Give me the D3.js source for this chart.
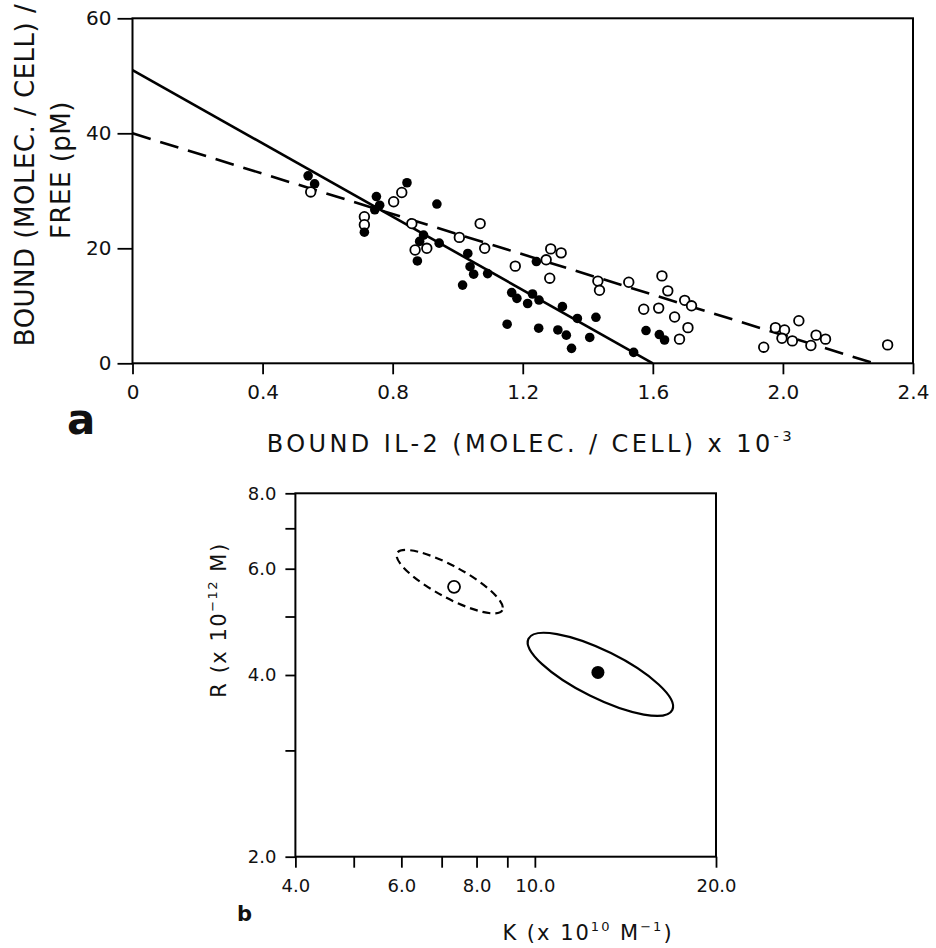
<!DOCTYPE html>
<html>
<head>
<meta charset="utf-8">
<script src="https://cdn.jsdelivr.net/npm/d3@7"></script>
<style>
  body { margin: 0; background: #fff; }
  svg { display: block; background: #fff; }
  text { fill: #111; font-family: 'DejaVu Sans', sans-serif; }
</style>
</head>
<body>
<svg id="chart" width="936" height="948"></svg>
<script>
// ---------- panel a : bound IL-2 (x10^-3) vs bound/free ----------
var filledPts = [
  [0.54, 32.6], [0.56, 31.2], [0.75, 29.0], [0.76, 27.5], [0.745, 26.7], [0.713, 22.8],
  [0.844, 31.4], [0.936, 27.7], [0.895, 22.3], [0.883, 21.2], [0.876, 17.8], [0.943, 20.9],
  [1.031, 19.1], [1.038, 16.8], [1.049, 15.5], [1.092, 15.6], [1.015, 13.6], [1.242, 17.7],
  [1.166, 12.3], [1.182, 11.3], [1.215, 10.4], [1.230, 12.05], [1.250, 11.0], [1.152, 6.8],
  [1.249, 6.1], [1.308, 5.8], [1.334, 4.9], [1.350, 2.6], [1.322, 9.85], [1.368, 7.8],
  [1.406, 4.5], [1.425, 8.0], [1.579, 5.7], [1.541, 1.9], [1.620, 5.0], [1.636, 4.05]
];
var openPts = [
  [0.548, 29.8], [0.713, 25.5], [0.713, 24.1], [0.803, 28.1], [0.828, 29.7], [0.859, 24.3],
  [1.069, 24.3], [0.869, 19.7], [0.905, 20.0], [1.005, 21.9], [1.083, 20.0], [1.177, 16.9],
  [1.272, 18.0], [1.286, 19.9], [1.318, 19.2], [1.283, 14.8], [1.431, 14.3], [1.436, 12.7],
  [1.526, 14.1], [1.572, 9.4], [1.628, 15.2], [1.646, 12.6], [1.618, 9.6], [1.698, 10.95],
  [1.719, 10.0], [1.667, 8.05], [1.708, 6.2], [1.682, 4.2], [1.941, 2.8], [1.977, 6.2],
  [2.005, 5.8], [2.049, 7.4], [1.997, 4.35], [2.029, 3.9], [2.102, 4.9], [2.131, 4.2],
  [2.086, 3.1], [2.322, 3.2]
];
var solidFit = [[0, 51], [1.6, 0]];
var dashedFit = [[0, 40], [2.28, 0]];
var aXTicks = [0, 0.4, 0.8, 1.2, 1.6, 2.0, 2.4];
var aYTicks = [0, 20, 40, 60];

// ---------- panel b : K vs R (log-log) ----------
var bXTicks = [4, 5, 6, 7, 8, 9, 10, 20];
var bXLabels = [4, 6, 8, 10, 20];
var bYTicks = [2, 3, 4, 5, 6, 7, 8];
var bYLabels = [2, 4, 6, 8];
var openEst = [7.34, 5.60];
var filledEst = [12.73, 4.04];
// confidence regions: centre, end of major axis, end of minor axis  [K, R]
var dashedRegion = [[7.22, 5.71], [8.83, 5.12], [7.43, 6.02]];
var solidRegion = [[12.85, 4.01], [16.92, 3.50], [13.37, 4.35]];

var svg = d3.select("#chart");

// text with superscripts: parts = [[string, isSup], ...]
function richText(sel, parts, fs) {
  var up = false;
  parts.forEach(function(p) {
    var t = sel.append("tspan").text(p[0]);
    if (p[1]) {
      t.attr("font-size", fs * 0.62).attr("dy", -fs * 0.45);
      up = true;
    } else {
      if (up) { t.attr("dy", fs * 0.45); up = false; }
    }
  });
}

function styleAxis(g, fs) {
  g.select(".domain").remove();
  g.selectAll(".tick line").attr("stroke", "#000").attr("stroke-width", 1.8);
  g.selectAll(".tick text").attr("font-size", fs).attr("fill", "#111");
}

// ================= panel a =================
var xa = d3.scaleLinear().domain([0, 2.4]).range([132.5, 913]);
var ya = d3.scaleLinear().domain([0, 60]).range([363.3, 18.3]);

var ga = svg.append("g");

ga.append("g")
  .attr("transform", "translate(0," + ya(0) + ")")
  .call(d3.axisBottom(xa).tickValues(aXTicks).tickSize(11).tickPadding(11)
    .tickFormat(function(d) { return d === 0 ? "0" : d3.format(".1f")(d); }))
  .call(styleAxis, 20);

ga.append("g")
  .attr("transform", "translate(" + xa(0) + ",0)")
  .call(d3.axisLeft(ya).tickValues(aYTicks).tickSize(15).tickPadding(6))
  .call(styleAxis, 20);

ga.append("rect")
  .attr("x", xa(0)).attr("y", ya(60))
  .attr("width", xa(2.4) - xa(0)).attr("height", ya(0) - ya(60))
  .attr("fill", "none").attr("stroke", "#000").attr("stroke-width", 2);

var lineA = d3.line().x(function(d) { return xa(d[0]); }).y(function(d) { return ya(d[1]); });

ga.append("path").datum(dashedFit)
  .attr("d", lineA).attr("fill", "none").attr("stroke", "#000")
  .attr("stroke-width", 2.6).attr("stroke-dasharray", "19,10");

ga.append("path").datum(solidFit)
  .attr("d", lineA).attr("fill", "none").attr("stroke", "#000").attr("stroke-width", 2.6);

ga.selectAll(".open").data(openPts).enter().append("circle")
  .attr("class", "open")
  .attr("cx", function(d) { return xa(d[0]); })
  .attr("cy", function(d) { return ya(d[1]); })
  .attr("r", 4.8).attr("fill", "#fff").attr("stroke", "#000").attr("stroke-width", 1.8);

ga.selectAll(".filled").data(filledPts).enter().append("circle")
  .attr("class", "filled")
  .attr("cx", function(d) { return xa(d[0]); })
  .attr("cy", function(d) { return ya(d[1]); })
  .attr("r", 4.8).attr("fill", "#000");

// axis titles a
ga.append("text")
  .attr("transform", "translate(34,175) rotate(-90)")
  .attr("text-anchor", "middle").attr("font-size", 26).attr("letter-spacing", 0.5)
  .text("BOUND (MOLEC. / CELL) /");
ga.append("text")
  .attr("transform", "translate(70,170) rotate(-90)")
  .attr("text-anchor", "middle").attr("font-size", 26).attr("letter-spacing", 0.5)
  .text("FREE (pM)");

var xt = ga.append("text")
  .attr("x", 531).attr("y", 452)
  .attr("text-anchor", "middle").attr("font-size", 24).attr("letter-spacing", 3.4);
richText(xt, [["BOUND IL-2 (MOLEC. / CELL) x 10", false], ["-3", true]], 24);

ga.append("text")
  .attr("x", 67).attr("y", 434)
  .attr("font-family", "'Liberation Sans', Arial, sans-serif")
  .attr("font-weight", "bold").attr("font-size", 42).text("a");

// ================= panel b =================
var xb = d3.scaleLog().domain([4, 20]).range([295.4, 716]);
var yb = d3.scaleLog().domain([2, 8]).range([856.7, 493.3]);

var gb = svg.append("g");

gb.append("g")
  .attr("transform", "translate(0," + yb(2) + ")")
  .call(d3.axisBottom(xb).tickValues(bXTicks).tickSize(11).tickPadding(12)
    .tickFormat(function(d) { return bXLabels.indexOf(d) >= 0 ? d3.format(".1f")(d) : ""; }))
  .call(styleAxis, 18);

gb.append("g")
  .attr("transform", "translate(" + xb(4) + ",0)")
  .call(d3.axisLeft(yb).tickValues(bYTicks).tickSize(10).tickPadding(9)
    .tickFormat(function(d) { return bYLabels.indexOf(d) >= 0 ? d3.format(".1f")(d) : ""; }))
  .call(styleAxis, 18);

gb.append("rect")
  .attr("x", xb(4)).attr("y", yb(8))
  .attr("width", xb(20) - xb(4)).attr("height", yb(2) - yb(8))
  .attr("fill", "none").attr("stroke", "#000").attr("stroke-width", 2);

// ellipse from centre / major-axis end / minor-axis end, all through the scales
function regionEllipse(g, reg) {
  var cx = xb(reg[0][0]), cy = yb(reg[0][1]);
  var ax = xb(reg[1][0]) - cx, ay = yb(reg[1][1]) - cy;
  var bx = xb(reg[2][0]) - cx, by = yb(reg[2][1]) - cy;
  var ang = Math.atan2(ay, ax) * 180 / Math.PI;
  return g.append("ellipse")
    .attr("cx", 0).attr("cy", 0)
    .attr("rx", Math.sqrt(ax * ax + ay * ay))
    .attr("ry", Math.sqrt(bx * bx + by * by))
    .attr("transform", "translate(" + cx + "," + cy + ") rotate(" + ang + ")")
    .attr("fill", "none").attr("stroke", "#000").attr("stroke-width", 2.2);
}

regionEllipse(gb, dashedRegion).attr("stroke-dasharray", "8,5");
regionEllipse(gb, solidRegion);

gb.append("circle")
  .attr("cx", xb(openEst[0])).attr("cy", yb(openEst[1]))
  .attr("r", 6).attr("fill", "#fff").attr("stroke", "#000").attr("stroke-width", 1.8);

gb.append("circle")
  .attr("cx", xb(filledEst[0])).attr("cy", yb(filledEst[1]))
  .attr("r", 6.5).attr("fill", "#000");

var rt = gb.append("text")
  .attr("transform", "translate(226,620) rotate(-90)")
  .attr("text-anchor", "middle").attr("font-size", 21).attr("letter-spacing", 1.5);
richText(rt, [["R (x 10", false], ["\u221212", true], [" M)", false]], 21);

var kt = gb.append("text")
  .attr("x", 588).attr("y", 940)
  .attr("text-anchor", "middle").attr("font-size", 21).attr("letter-spacing", 2);
richText(kt, [["K (x 10", false], ["10", true], [" M", false], ["\u22121", true], [")", false]], 21);

gb.append("text")
  .attr("x", 237).attr("y", 921)
  .attr("font-family", "'Liberation Sans', Arial, sans-serif")
  .attr("font-weight", "bold").attr("font-size", 21).text("b");
</script>
</body>
</html>
